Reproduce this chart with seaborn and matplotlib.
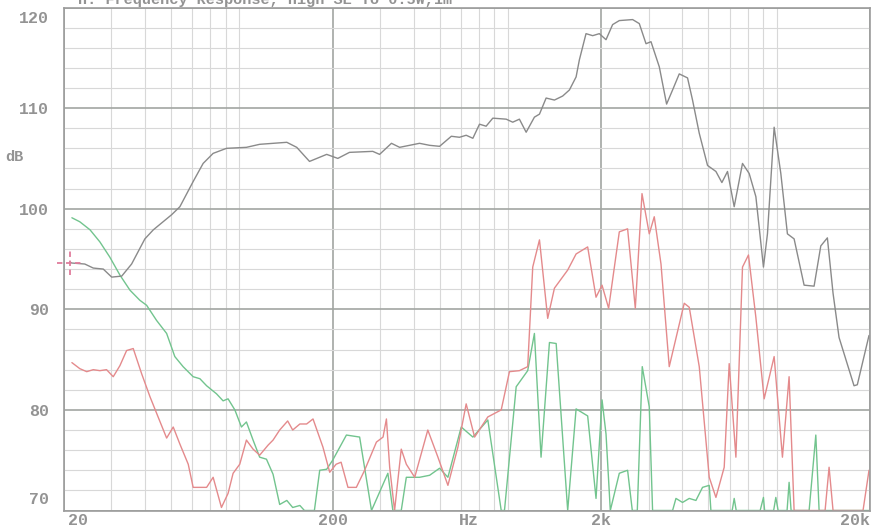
import numpy as np
import pandas as pd
import matplotlib
matplotlib.use("Agg")
import matplotlib.pyplot as plt
import matplotlib.transforms as mtransforms
from matplotlib.ticker import FixedLocator, NullFormatter
import seaborn as sns

# Fundamental response (Hz, dB SPL)
gray_freq = [21, 21.4, 23.9, 25.7, 28.0, 30.1, 32.8, 35.7, 40.0, 43.0, 50.3, 54.0, 60.5, 65.9,
             71.8, 80.5, 95.5, 107, 135, 147, 164, 190, 209, 231, 282, 299, 331, 355, 421,
             459, 500, 553, 593, 628, 665, 704, 745, 789, 885, 936, 991, 1050, 1127, 1177,
             1246, 1338, 1436, 1521, 1611, 1657, 1754, 1857, 1966, 2082, 2203, 2333, 2615,
             2769, 2933, 3061, 3287, 3499, 3683, 3900, 4187, 4370, 4629, 4970, 5340, 5620,
             5897, 6245, 6706, 7101, 7520, 8025, 8305, 8795, 9313, 9855, 10436, 11370,
             12385, 13118, 13880, 14570, 15340, 17440, 17940, 19830]
gray_db = [94.7, 94.6, 94.5, 94.1, 94.0, 93.2, 93.3, 94.5, 97.0, 97.9, 99.4, 100.2, 102.7, 104.5,
           105.5, 106.0, 106.1, 106.4, 106.6, 106.1, 104.7, 105.4, 105.0, 105.6, 105.7, 105.4,
           106.5, 106.1, 106.5, 106.3, 106.2, 107.2, 107.1, 107.3, 107.0, 108.4, 108.2, 109.0,
           108.9, 108.6, 108.9, 107.6, 109.1, 109.4, 111.0, 110.8, 111.2, 111.8, 113.1, 114.8,
           117.4, 117.2, 117.4, 116.8, 118.3, 118.7, 118.8, 118.4, 116.4, 116.6, 114.1, 110.4,
           111.8, 113.4, 113.0, 110.8, 107.5, 104.3, 103.7, 102.6, 103.7, 100.2, 104.5, 103.5,
           101.2, 94.2, 97.5, 108.1, 103.5, 97.5, 97.0, 92.4, 92.3, 96.3, 97.1, 91.6, 87.2,
           82.4, 82.5, 87.4]

# Second harmonic distortion
red_freq = [21.4, 22.9, 24.3, 25.7, 27.2, 28.8, 30.5, 32.3, 34.2, 36.2, 38.9, 41.8, 44.8, 48.2,
            51.0, 54.0, 58.0, 60.5, 67.9, 71.8, 77.1, 81.6, 85.2, 90.2, 95.5, 101.1, 107, 115,
            120, 127, 136, 142, 151, 160, 169, 184, 195, 206, 215, 228, 245, 263, 291, 308,
            317, 326, 340, 360, 376, 404, 452, 493, 537, 585, 628, 675, 756, 848, 910, 991,
            1064, 1111, 1177, 1263, 1338, 1499, 1611, 1779, 1911, 2012, 2129, 2333, 2505,
            2676, 2834, 3016, 3148, 3335, 3579, 4070, 4249, 4629, 5043, 5340, 5733, 5983,
            6337, 6706, 7059, 7520, 8073, 8795, 9443, 9998, 10436, 13610, 14084, 14570,
            18840, 19830]
red_db = [84.7, 84.1, 83.8, 84.0, 83.9, 84.0, 83.3, 84.4, 85.9, 86.1, 83.6, 81.3, 79.3, 77.2,
          78.3, 76.6, 74.6, 72.3, 72.3, 73.3, 70.3, 71.7, 73.7, 74.6, 77.0, 76.1, 75.5, 76.5,
          77.0, 78.0, 78.9, 78.0, 78.6, 78.6, 79.1, 76.3, 73.8, 74.6, 74.8, 72.3, 72.3, 74.0,
          76.8, 77.3, 79.1, 74.3, 70.0, 76.1, 74.6, 73.3, 78.0, 75.3, 72.5, 76.3, 80.6, 77.3,
          79.3, 80.0, 83.8, 83.9, 84.3, 94.2, 96.9, 89.1, 92.1, 93.9, 95.5, 96.2, 91.2, 92.4,
          90.1, 97.7, 98.0, 90.1, 101.5, 97.5, 99.2, 94.5, 84.3, 90.6, 90.2, 84.3, 73.3, 71.3,
          74.3, 84.6, 75.3, 94.2, 95.4, 89.2, 81.1, 85.3, 75.3, 83.3, 70.0, 70.0, 74.3, 70.0,
          70.0, 74.0]

# Third harmonic distortion
green_freq = [21.4, 22.9, 25.0, 27.2, 29.6, 32.3, 35.2, 38.3, 40.6, 44.2, 48.2, 51.7, 55.5,
              60.5, 64.1, 67.9, 73.9, 78.2, 81.6, 86.5, 91.5, 95.5, 101.1, 107, 113.4, 120,
              127, 135, 142, 151, 157, 171, 179, 190, 200, 225, 252, 279, 321, 335, 360, 376,
              421, 459, 500, 537, 602, 665, 756, 848, 872, 964, 1064, 1127, 1193, 1282, 1358,
              1499, 1611, 1779, 1911, 2012, 2082, 2160, 2333, 2505, 2608, 2722, 2840, 3016,
              3103, 3683, 3791, 4011, 4249, 4499, 4761, 5043, 5115, 6139, 6245, 6354, 7803,
              8025, 8106, 8757, 8923, 9101, 9826, 9998, 10170, 11870, 12570, 12930, 19830]
green_db = [99.1, 98.7, 97.9, 96.7, 95.2, 93.4, 91.9, 90.9, 90.4, 88.9, 87.6, 85.3, 84.3,
            83.3, 83.1, 82.4, 81.6, 80.9, 81.1, 80.0, 78.3, 78.8, 77.0, 75.3, 75.1, 73.6,
            70.6, 71.0, 70.3, 70.5, 70.0, 70.0, 74.0, 74.1, 75.0, 77.5, 77.3, 70.0, 73.7,
            70.0, 70.0, 73.3, 73.3, 73.5, 74.2, 73.3, 78.3, 77.3, 79.0, 70.0, 70.0, 82.3,
            83.9, 87.6, 75.3, 86.7, 86.6, 70.0, 80.1, 79.4, 71.2, 81.0, 77.6, 70.0, 73.7,
            74.0, 70.0, 70.0, 84.3, 80.3, 70.0, 70.0, 71.2, 70.8, 71.2, 71.0, 72.3, 72.5,
            70.0, 70.0, 71.2, 70.0, 70.0, 71.3, 70.0, 70.0, 71.3, 70.0, 70.0, 72.8, 70.0,
            70.0, 77.5, 70.0, 70.0]

# Marker cursor position
cursor_freq = 21.0
cursor_db = 94.6

x_labels = ["20", "200", "2k", "20k"]
x_label_pos = [20, 200, 2000, 20000]
y_major = [70, 80, 90, 100, 110, 120]

TEXT = "#939393"
MONO = ["Liberation Mono", "DejaVu Sans Mono"]

sns.set_style("white")
plt.rcParams["font.family"] = MONO

fig = plt.figure(figsize=(8.71, 5.28), dpi=100, facecolor="white")
ax = fig.add_axes([64 / 871, 17.5 / 528, 806 / 871, 503 / 528])

traces = [
    ("green", green_freq, green_db, "#72c48e"),
    ("red", red_freq, red_db, "#e48a8c"),
    ("gray", gray_freq, gray_db, "#8a8a8a"),
]
for name, f, d, col in traces:
    df = pd.DataFrame({"freq": f, "db": d})
    sns.lineplot(data=df, x="freq", y="db", ax=ax, color=col, lw=1.0,
                 estimator=None, sort=False, legend=False)

ax.set_xscale("log")
ax.set_xlim(20, 20000)
ax.set_ylim(70, 120)

minor_x = [m * 10 ** k for k in (1, 2, 3) for m in range(2, 10)
           if m * 10 ** k not in x_label_pos and 20 < m * 10 ** k < 20000]
ax.xaxis.set_major_locator(FixedLocator(x_label_pos))
ax.xaxis.set_minor_locator(FixedLocator(minor_x))
ax.xaxis.set_major_formatter(NullFormatter())
ax.xaxis.set_minor_formatter(NullFormatter())
ax.yaxis.set_major_locator(FixedLocator(y_major))
ax.yaxis.set_minor_locator(FixedLocator(list(range(72, 120, 2))))

ax.grid(which="major", color="#a2a6a2", lw=1.2)
ax.grid(which="minor", color="#d8d8d8", lw=0.8)
ax.set_axisbelow(True)
ax.tick_params(which="both", length=0)
ax.tick_params(axis="y", labelsize=12, labelcolor=TEXT, pad=11)
for lab in ax.get_yticklabels():
    lab.set_fontweight("bold")
ax.set_xlabel("")
ax.set_ylabel("")
for s in ax.spines.values():
    s.set_color("#9c9c9c")
    s.set_linewidth(1.2)

# Keep the end labels of the dB scale inside the frame
fig.canvas.draw()
ylabs = ax.get_yticklabels()
shift = {"120": -7, "70": 9}
for lab in ylabs:
    txt = lab.get_text()
    if txt in shift:
        lab.set_transform(lab.get_transform() +
                          mtransforms.ScaledTranslation(0, shift[txt] / 72, fig.dpi_scale_trans))

# Frequency labels below the axis
aligns = ["left", "center", "center", "right"]
offsets = [3, 0, 0, 0]
for lab, pos, ha, dx in zip(x_labels, x_label_pos, aligns, offsets):
    ax.annotate(lab, xy=(pos, 0), xycoords=("data", "axes fraction"),
                xytext=(dx, -2), textcoords="offset points", fontweight="bold",
                ha=ha, va="top", fontsize=12, color=TEXT, annotation_clip=False)
ax.annotate("Hz", xy=(640, 0), xycoords=("data", "axes fraction"),
            xytext=(0, -2), textcoords="offset points", fontweight="bold",
            ha="center", va="top", fontsize=12, color=TEXT, annotation_clip=False)

fig.text(14 / 871, 1 - 157 / 528, "dB", ha="center", va="center",
         fontsize=11, color=TEXT, fontweight="bold")
fig.text(78 / 871, 1 - 4 / 528, "H: Frequency Response, High SE To 0.5W,1m",
         ha="left", va="baseline", fontsize=11, color=TEXT, fontweight="bold")

# Dashed cursor cross at the start of the response
cross = fig.dpi_scale_trans + mtransforms.ScaledTranslation(cursor_freq, cursor_db, ax.transData)
ax.plot([-0.13, 0.12], [0, 0], transform=cross, color="#e07c9c", lw=1.3,
        ls=(0, (3, 2)), clip_on=False)
ax.plot([0, 0], [-0.12, 0.12], transform=cross, color="#e07c9c", lw=1.3,
        ls=(0, (3, 2)), clip_on=False)

fig.savefig("out.png", dpi=100, facecolor="white")
